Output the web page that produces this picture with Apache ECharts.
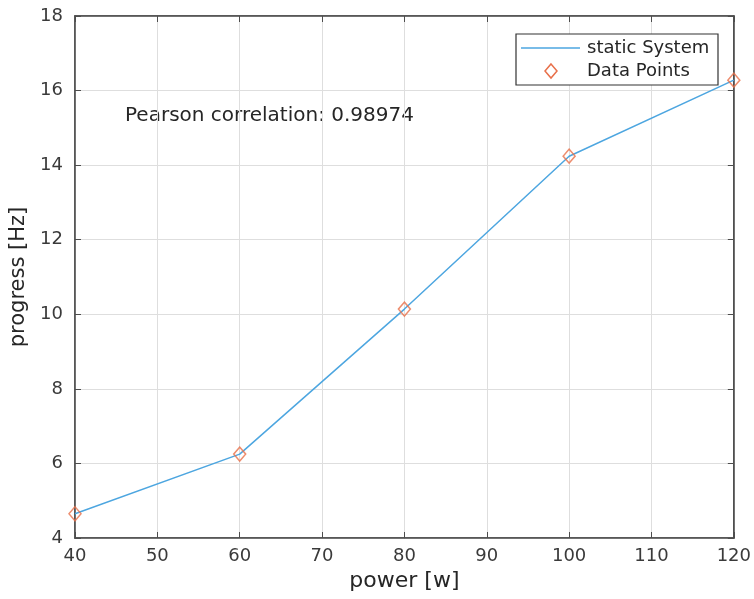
<!DOCTYPE html>
<html><head><meta charset="utf-8">
<script src="https://cdn.jsdelivr.net/npm/echarts@6/dist/echarts.min.js"></script>
<style>html,body{margin:0;padding:0;background:#fff}#c{width:754px;height:599px}</style>
</head><body><div id="c"></div>
<script>
const powerW = [40, 60, 80, 100, 120];
const progressHz = [4.65, 6.25, 10.14, 14.24, 16.28];
const xTicks = [40, 50, 60, 70, 80, 90, 100, 110, 120];
const yTicks = [4, 6, 8, 10, 12, 14, 16, 18];
const seriesNames = ['static System', 'Data Points'];
const annotation = 'Pearson correlation: 0.98974';

const FONT = 'DejaVu Sans';
const TXT = '#3a3a3a';
const AX = '#4d4d4d';
const LINE = '#4da6e0';
const MARK = '#e8704a';
const pts = powerW.map((x, i) => [x, progressHz[i]]);

const chart = echarts.init(document.getElementById('c'));
chart.setOption({
  animation: false,
  backgroundColor: '#fff',
  textStyle: { fontFamily: FONT },
  grid: { left: 75, right: 20, top: 16, bottom: 61, show: true, borderColor: AX, borderWidth: 1.5, backgroundColor: 'transparent' },
  xAxis: [{
    type: 'value', min: xTicks[0], max: xTicks[xTicks.length - 1], interval: 10,
    name: 'power [w]', nameLocation: 'middle', nameGap: 31,
    nameTextStyle: { fontSize: 22, color: '#262626', fontFamily: FONT },
    axisLine: { lineStyle: { color: AX, width: 1.5 } },
    axisTick: { inside: true, length: 6, lineStyle: { color: AX } },
    axisLabel: { fontSize: 18, color: TXT, margin: 9, fontFamily: FONT },
    splitLine: { show: true, lineStyle: { color: '#dedede', width: 1 } }
  }, {
    type: 'value', position: 'top', min: xTicks[0], max: xTicks[xTicks.length - 1], interval: 10,
    axisLine: { show: true, lineStyle: { color: AX, width: 1.5 } },
    axisTick: { inside: true, length: 6, lineStyle: { color: AX } },
    axisLabel: { show: false }, splitLine: { show: false }
  }],
  yAxis: [{
    type: 'value', min: yTicks[0], max: yTicks[yTicks.length - 1], interval: 2,
    name: 'progress [Hz]', nameLocation: 'middle', nameGap: 40,
    nameTextStyle: { fontSize: 21, color: '#262626', fontFamily: FONT },
    axisLine: { show: true, lineStyle: { color: AX, width: 1.5 } },
    axisTick: { show: true, inside: true, length: 6, lineStyle: { color: AX } },
    axisLabel: { fontSize: 18, color: TXT, margin: 12, fontFamily: FONT },
    splitLine: { show: true, lineStyle: { color: '#dedede', width: 1 } }
  }, {
    type: 'value', position: 'right', min: yTicks[0], max: yTicks[yTicks.length - 1], interval: 2,
    axisLine: { show: true, lineStyle: { color: AX, width: 1.5 } },
    axisTick: { show: true, inside: true, length: 6, lineStyle: { color: AX } },
    axisLabel: { show: false }, splitLine: { show: false }
  }],
  graphic: [
    { type: 'text', left: 125, top: 106,
      style: { text: annotation, fontSize: 20, fill: '#262626', fontFamily: FONT } },
    { type: 'rect', z: 50, shape: { x: 516, y: 34, width: 202, height: 51 },
      style: { fill: '#fff', stroke: '#333', lineWidth: 1.2 } },
    { type: 'line', z: 51, shape: { x1: 521, y1: 48, x2: 580, y2: 48 },
      style: { stroke: LINE, lineWidth: 1.5 } },
    { type: 'polygon', z: 51, shape: { points: [[551, 64], [557, 71], [551, 78], [545, 71]] },
      style: { fill: 'none', stroke: MARK, lineWidth: 1.5 } },
    { type: 'text', z: 51, x: 587, y: 48,
      style: { text: seriesNames[0], fontSize: 18, fill: '#262626', fontFamily: FONT, textVerticalAlign: 'middle' } },
    { type: 'text', z: 51, x: 587, y: 71,
      style: { text: seriesNames[1], fontSize: 18, fill: '#262626', fontFamily: FONT, textVerticalAlign: 'middle' } }
  ],
  series: [{
    name: seriesNames[0], type: 'line', data: pts, smooth: false,
    symbol: 'none', lineStyle: { color: LINE, width: 1.5 }, itemStyle: { color: LINE }, z: 2
  }, {
    name: seriesNames[1], type: 'scatter', data: pts, symbol: 'diamond', symbolSize: [12, 14],
    itemStyle: { color: 'rgba(255,255,255,0)', borderColor: MARK, borderWidth: 1.5 }, z: 3
  }]
});
</script></body></html>
